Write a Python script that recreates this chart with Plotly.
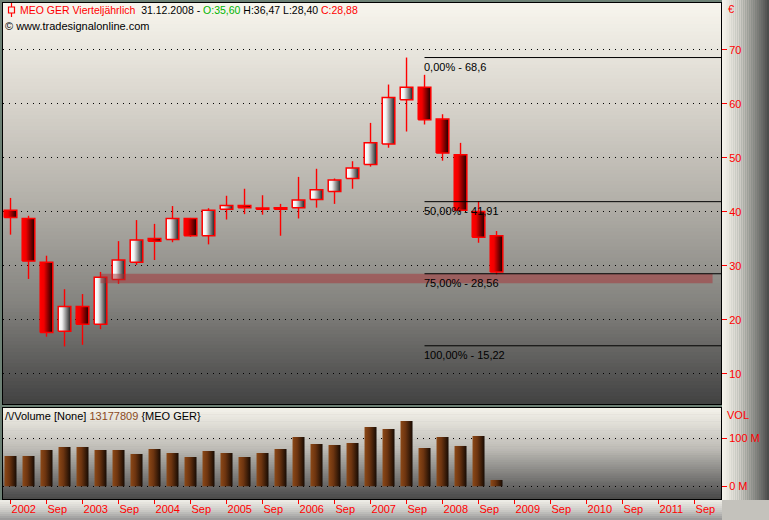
import plotly.graph_objects as go

# ---------------- data ----------------
quarters = [f"Q{q} {y}" for y in range(2002, 2009) for q in range(1, 5)]
open_ = [40.3, 38.8, 30.7, 17.9, 22.5, 19.2, 27.5, 30.7, 35.1, 34.9, 38.8, 35.6, 40.5, 41.2,
         40.65, 40.6, 40.8, 42.3, 43.8, 46.2, 48.8, 52.6, 60.8, 63.1, 57.2, 50.6, 40.1, 35.60]
high = [42.6, 39.3, 31.9, 25.7, 24.8, 28.9, 34.6, 38.5, 37.8, 41.1, 38.9, 40.7, 43.0, 44.3,
        43.1, 41.5, 46.5, 48.0, 46.2, 49.4, 56.5, 63.6, 68.6, 65.4, 58.1, 52.8, 42.0, 36.47]
low = [35.8, 27.6, 16.9, 15.1, 15.4, 18.3, 26.7, 30.2, 31.1, 34.4, 35.4, 34.0, 38.6, 39.6,
       39.5, 35.6, 38.8, 40.8, 41.5, 44.3, 48.4, 51.9, 54.9, 56.2, 49.5, 40.1, 34.3, 28.40]
close = [39.0, 30.9, 17.7, 22.5, 19.2, 27.9, 31.1, 34.8, 34.6, 38.8, 35.6, 40.3, 41.2, 40.8,
         40.6, 40.7, 42.2, 44.1, 45.9, 48.15, 52.8, 61.2, 63.1, 57.1, 50.9, 40.3, 35.3, 28.88]
volume_m = [63.1, 63.1, 75.6, 81.9, 81.9, 75.6, 75.6, 67.3, 77.7, 69.4, 61.0, 73.5, 69.4, 61.0,
            69.4, 77.7, 102.7, 88.1, 86.0, 90.2, 123.5, 119.4, 136.0, 79.8, 102.7, 84.0, 104.8, 13.18]
last_volume = 13177809

fib_pct = [0.0, 50.0, 75.0, 100.0]
fib_val = [68.6, 41.91, 28.56, 15.22]
fib_start = 23            # Q4 2007
zone_start = 5
zone_end = 39.0
zone_low, zone_high = 26.8, 28.56

price_ticks = [10, 20, 30, 40, 50, 60, 70]
vol_ticks = [0, 100]
vol_ticklabels = ["0 M", "100 M"]
x_tickvals = list(range(0, 40, 2))
x_ticklabels = [str(2002 + i // 4) if i % 4 == 0 else "Sep" for i in x_tickvals]

# ---------------- layout constants ----------------
W, H = 769, 520
ML, MR, MT, MB = 3, 48, 3, 21
PW, PH = W - ML - MR, H - MT - MB
XR = [-0.417, 39.47]
YR = [4.44, 78.7]
Y2R = [-26.5, 163.1]
FONT = "Liberation Sans, Arial, sans-serif"


def px_x(px):
    return (px - ML) / PW


def px_y(py):
    return (H - MB - py) / PH


def lerp(stops, t):
    for (t0, c0), (t1, c1) in zip(stops, stops[1:]):
        if t <= t1:
            f = 0 if t1 == t0 else (t - t0) / (t1 - t0)
            return "rgb(%d,%d,%d)" % tuple(round(a + (b - a) * f) for a, b in zip(c0, c1))
    return "rgb(%d,%d,%d)" % stops[-1][1]


fig = go.Figure()
shapes = []

main_bg = [(0, (248, 246, 238)), (0.25, (216, 212, 204)), (0.5, (178, 175, 168)),
           (0.75, (132, 131, 127)), (1, (66, 66, 66))]
n = 110
for k in range(n):
    shapes.append(dict(type="rect", xref="x domain", yref="y domain", x0=0, x1=1,
                       y0=1 - (k + 1) / n, y1=1 - k / n + 0.002, layer="below",
                       fillcolor=lerp(main_bg, (k + 0.5) / n), line=dict(width=0)))
vol_bg = [(0, (246, 244, 236)), (0.45, (190, 188, 182)), (1, (72, 72, 72))]
n = 40
for k in range(n):
    shapes.append(dict(type="rect", xref="x2 domain", yref="y2 domain", x0=0, x1=1,
                       y0=1 - (k + 1) / n, y1=1 - k / n + 0.005, layer="below",
                       fillcolor=lerp(vol_bg, (k + 0.5) / n), line=dict(width=0)))
# right axis column
right_bg = [(0, (246, 244, 236)), (0.35, (214, 212, 205)), (0.7, (140, 139, 135)), (1, (72, 72, 72))]
n = 24
x0p, x1p = px_x(722), px_x(769)
for k in range(n):
    shapes.append(dict(type="rect", xref="paper", yref="paper",
                       x0=x0p + (x1p - x0p) * k / n, x1=x0p + (x1p - x0p) * (k + 1.05) / n,
                       y0=px_y(500), y1=px_y(0), layer="below",
                       fillcolor=lerp(right_bg, (k + 0.5) / n), line=dict(width=0)))
# bottom date strip
bot_bg = [(0, (240, 238, 232)), (0.5, (205, 204, 200)), (1, (150, 150, 150))]
n = 10
for k in range(n):
    shapes.append(dict(type="rect", xref="paper", yref="paper", x0=px_x(0), x1=px_x(722),
                       y0=px_y(500 + 20 * (k + 1.05) / n), y1=px_y(500 + 20 * k / n), layer="below",
                       fillcolor=lerp(bot_bg, (k + 0.5) / n), line=dict(width=0)))
shapes.append(dict(type="rect", xref="paper", yref="paper", x0=px_x(722), x1=px_x(769),
                   y0=px_y(520), y1=px_y(500), layer="below", fillcolor="#c4c2bc", line=dict(width=0)))

# ---------------- candles ----------------
wx, wy = [], []
for i in range(len(open_)):
    wx += [i, i, None]
    wy += [low[i], high[i], None]
fig.add_trace(go.Scatter(x=wx, y=wy, mode="lines", line=dict(color="#ff0000", width=1.4),
                         hoverinfo="skip", showlegend=False))
bw = 0.35
for i in range(len(open_)):
    lo, hi = min(open_[i], close[i]), max(open_[i], close[i])
    if hi - lo < 0.15:
        lo, hi = lo - 0.08, hi + 0.08
    bull = close[i] >= open_[i]
    cs = ([[0, "#ffffff"], [0.3, "#f2f2f2"], [1, "#1c1c1c"]] if bull
          else [[0, "#ff0000"], [0.3, "#f00000"], [1, "#180000"]])
    fig.add_trace(go.Scatter(x=[i - bw, i + bw, i + bw, i - bw, i - bw], y=[lo, lo, hi, hi, lo],
                             mode="lines", fill="toself",
                             fillgradient=dict(type="horizontal", colorscale=cs),
                             line=dict(color="#ff0000", width=1.5),
                             hoverinfo="skip", showlegend=False))

# ---------------- volume ----------------
vw = 0.333
for i, v in enumerate(volume_m):
    fig.add_trace(go.Scatter(x=[i - vw, i + vw, i + vw, i - vw, i - vw], y=[0, 0, v, v, 0],
                             mode="lines", fill="toself", xaxis="x2", yaxis="y2",
                             fillgradient=dict(type="horizontal",
                                               colorscale=[[0, "#8c4816"], [0.4, "#6e3510"], [1, "#170b03"]]),
                             line=dict(width=0, color="rgba(0,0,0,0)"),
                             hoverinfo="skip", showlegend=False))

# ---------------- fib lines & zone ----------------
shapes.append(dict(type="rect", xref="x", yref="y", x0=zone_start, x1=zone_end,
                   y0=zone_low, y1=zone_high, fillcolor="rgba(168,48,52,0.5)",
                   line=dict(width=0), layer="above"))
annotations = []
for p, v in zip(fib_pct, fib_val):
    shapes.append(dict(type="line", xref="x", yref="y", x0=fib_start, x1=XR[1], y0=v, y1=v,
                       line=dict(color="black", width=1), layer="above"))
    vtxt = f"{v:.2f}".rstrip("0").rstrip(".").replace(".", ",")
    annotations.append(dict(x=fib_start, y=v, xref="x", yref="y", xanchor="left", yanchor="top",
                            text=f"{p:.2f}".replace(".", ",") + "% - " + vtxt, showarrow=False,
                            xshift=-3, yshift=-1, font=dict(family=FONT, size=11, color="black")))

# header icon
shapes.append(dict(type="line", xref="paper", yref="paper", x0=px_x(11.5), x1=px_x(11.5),
                   y0=px_y(17), y1=px_y(3), line=dict(color="#ff0000", width=1.2)))
shapes.append(dict(type="rect", xref="paper", yref="paper", x0=px_x(8.5), x1=px_x(14.5),
                   y0=px_y(13), y1=px_y(7), fillcolor="#f4f1e8", line=dict(color="#ff0000", width=1.2)))


def fmt(v):
    return f"{v:.2f}".replace(".", ",")


header = (f"<span style='color:#ff0000'>MEO GER Vierteljährlich</span>&nbsp;&nbsp;31.12.2008 - "
          f"<span style='color:#00b400'>O:{fmt(open_[-1])}</span> H:{fmt(high[-1])} L:{fmt(low[-1])} "
          f"<span style='color:#ff0000'>C:{fmt(close[-1])}</span>")
annotations += [
    dict(x=px_x(18), y=px_y(10), xref="paper", yref="paper", xanchor="left", yanchor="middle",
         text=header, showarrow=False, font=dict(family=FONT, size=10.5, color="black")),
    dict(x=px_x(3), y=px_y(26), xref="paper", yref="paper", xanchor="left", yanchor="middle",
         text="© www.tradesignalonline.com", showarrow=False, font=dict(family=FONT, size=11, color="black")),
    dict(x=px_x(3), y=px_y(416), xref="paper", yref="paper", xanchor="left", yanchor="middle",
         text=f"/\\/Volume [None] <span style='color:#8b4a1c'>{last_volume}</span> {{MEO GER}}",
         showarrow=False, font=dict(family=FONT, size=11, color="black")),
    dict(x=px_x(726), y=px_y(9), xref="paper", yref="paper", xanchor="left", yanchor="middle",
         text="€", showarrow=False, font=dict(family=FONT, size=11, color="#ff0000")),
    dict(x=px_x(725), y=px_y(415), xref="paper", yref="paper", xanchor="left", yanchor="middle",
         text="VOL", showarrow=False, font=dict(family=FONT, size=11, color="#ff0000")),
]

tickfont = dict(family=FONT, size=11, color="#ff0000")
fig.update_layout(
    width=W, height=H, margin=dict(l=ML, r=MR, t=MT, b=MB),
    paper_bgcolor="#6d8175", plot_bgcolor="#9a9892",
    hovermode=False, showlegend=False,
    shapes=shapes, annotations=annotations,
    xaxis=dict(domain=[0, 1], range=XR, showgrid=False, zeroline=False, showticklabels=False,
               ticks="", showline=True, mirror=True, linecolor="black", linewidth=1, anchor="y"),
    yaxis=dict(domain=[px_y(404), 1], range=YR, side="right", tickvals=price_ticks,
               showgrid=True, gridcolor="black", griddash="1px,5px", gridwidth=1, zeroline=False,
               ticks="outside", ticklen=5, tickcolor="#ff0000", tickfont=tickfont,
               showline=True, mirror=True, linecolor="black", linewidth=1, anchor="x"),
    xaxis2=dict(domain=[0, 1], range=XR, showgrid=False, zeroline=False, anchor="y2",
                tickvals=x_tickvals, ticktext=x_ticklabels, ticks="outside", ticklen=4,
                tickcolor="#ff0000", tickfont=tickfont, ticklabelposition="outside right",
                showline=True, mirror=True, linecolor="black", linewidth=1),
    yaxis2=dict(domain=[0, px_y(408)], range=Y2R, side="right", tickvals=vol_ticks,
                ticktext=vol_ticklabels, showgrid=True, gridcolor="black", griddash="1px,5px",
                gridwidth=1, zeroline=False, ticks="outside", ticklen=5, tickcolor="#ff0000",
                tickfont=tickfont, showline=True, mirror=True, linecolor="black", linewidth=1,
                anchor="x2"),
)

fig.write_html("out.html", config={"displayModeBar": False},
               post_script="document.body.style.margin='0px';document.body.style.overflow='hidden';")
